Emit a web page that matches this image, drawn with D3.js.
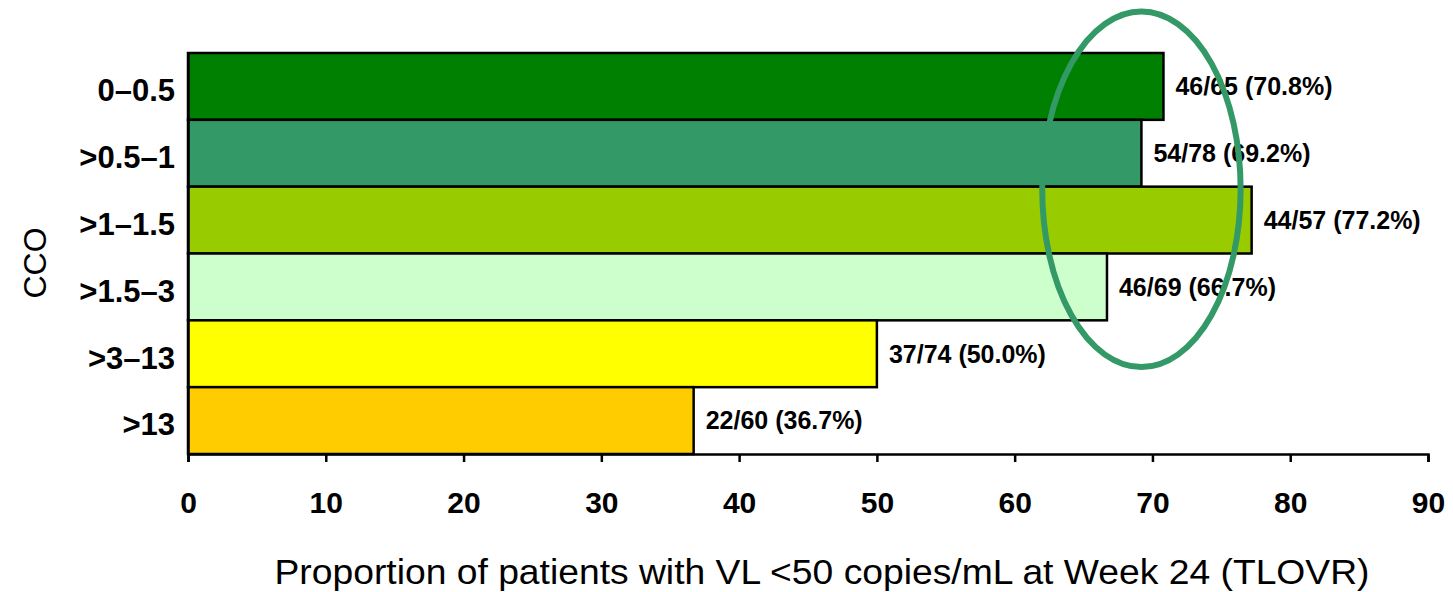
<!DOCTYPE html>
<html>
<head>
<meta charset="utf-8">
<script src="https://cdn.jsdelivr.net/npm/d3@7"></script>
<style>
  body { margin: 0; background: #fff; }
  text { font-family: "Liberation Sans", Arial, sans-serif; }
</style>
</head>
<body>
<svg id="chart" width="1453" height="592"></svg>
<script>
var categories = ["0\u20130.5", ">0.5\u20131", ">1\u20131.5", ">1.5\u20133", ">3\u201313", ">13"];
var responders = [46, 54, 44, 46, 37, 22];
var totals = [65, 78, 57, 69, 74, 60];
var percents = [70.8, 69.2, 77.2, 66.7, 50.0, 36.7];
var colors = ["#008000", "#339966", "#99cc00", "#ccffcc", "#ffff00", "#ffcc00"];
var xTicks = [0, 10, 20, 30, 40, 50, 60, 70, 80, 90];

var svg = d3.select("#chart");
var margin = {top: 53, left: 188, right: 25, bottom: 138};
var width = +svg.attr("width") - margin.left - margin.right;
var height = +svg.attr("height") - margin.top - margin.bottom;

var x = d3.scaleLinear().domain([0, 90]).range([0, width]);
var y = d3.scaleBand().domain(categories).range([0, height]).padding(0);

var g = svg.append("g")
    .attr("transform", "translate(" + margin.left + "," + margin.top + ")");

var data = categories.map(function(c, i) {
  return {cat: c, n: responders[i], total: totals[i], pct: percents[i], color: colors[i]};
});

g.selectAll(".bar")
    .data(data)
  .enter().append("rect")
    .attr("class", "bar")
    .attr("x", 0)
    .attr("y", function(d) { return y(d.cat); })
    .attr("width", function(d) { return x(d.pct); })
    .attr("height", y.bandwidth())
    .attr("fill", function(d) { return d.color; })
    .attr("stroke", "#000")
    .attr("stroke-width", 2.5);

g.selectAll(".val")
    .data(data)
  .enter().append("text")
    .attr("class", "val")
    .attr("x", function(d) { return x(d.pct) + 12; })
    .attr("y", function(d) { return y(d.cat) + y.bandwidth() / 2; })
    .attr("dy", "0.35em")
    .attr("font-size", 25)
    .attr("font-weight", "bold")
    .text(function(d) { return d.n + "/" + d.total + " (" + d.pct.toFixed(1) + "%)"; });

// x axis
var xAxis = g.append("g")
    .attr("transform", "translate(0," + height + ")")
    .call(d3.axisBottom(x).tickValues(xTicks).tickSizeOuter(0).tickSize(8).tickPadding(30));
xAxis.select(".domain").attr("stroke-width", 2.5);
xAxis.selectAll(".tick line").attr("stroke-width", 2.5);
xAxis.selectAll(".tick text")
    .attr("font-size", 30)
    .attr("font-weight", "bold")
    .attr("fill", "#000");

// y axis
var yAxis = g.append("g")
    .call(d3.axisLeft(y).tickSize(0).tickPadding(13));
yAxis.select(".domain").attr("stroke-width", 2.5);
yAxis.selectAll(".tick text")
    .attr("font-size", 31)
    .attr("font-weight", "bold")
    .attr("fill", "#000")
    .attr("dy", "0.48em");

// axis titles
svg.append("text")
    .attr("x", 822)
    .attr("y", 584)
    .attr("text-anchor", "middle")
    .attr("font-size", 35)
    .attr("textLength", 1095)
    .attr("lengthAdjust", "spacingAndGlyphs")
    .text("Proportion of patients with VL <50 copies/mL at Week 24 (TLOVR)");

svg.append("text")
    .attr("transform", "translate(46,263) rotate(-90)")
    .attr("text-anchor", "middle")
    .attr("font-size", 32)
    .text("CCO");

// highlight ellipse around the ~70% region
var yIdx = d3.scaleLinear().domain([0, categories.length]).range([0, height]);
g.append("ellipse")
    .attr("cx", x(69.2))
    .attr("cy", yIdx(2.04))
    .attr("rx", x(7.2) - x(0))
    .attr("ry", yIdx(2.66) - yIdx(0))
    .attr("fill", "none")
    .attr("stroke", "#339966")
    .attr("stroke-width", 6);
</script>
</body>
</html>
